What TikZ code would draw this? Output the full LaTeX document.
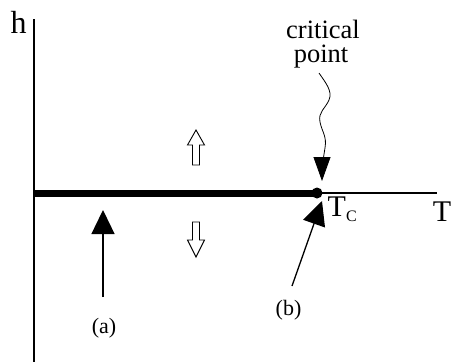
\documentclass[tikz,border=0pt]{standalone}
\usepackage{fontspec}
\setmainfont{Liberation Serif}
\usetikzlibrary{arrows.meta}
\begin{document}
\begin{tikzpicture}[x=1pt,y=-1pt,
  axis/.style={line width=1.3pt},
  bigtip/.style={-{Triangle[length=24pt,width=23pt]}, line width=1.3pt},
  hollow/.style={draw, line width=0.9pt, fill=white, line join=miter},
  lbl/.style={inner sep=0pt, anchor=base, font=\fontsize{22}{23}\selectfont},
  axlbl/.style={inner sep=0pt, anchor=base, font=\fontsize{30}{30}\selectfont},
  critlbl/.style={inner sep=0pt, anchor=base, font=\fontsize{26.5}{24}\selectfont}]
\useasboundingbox (0,0) rectangle (456,362);
% axes
\coordinate (Ytop) at (34,19);
\coordinate (Ybot) at (34,362);
\coordinate (O) at (34,193);
\coordinate (Xend) at (437,193);
\draw[axis] (Ytop) -- (Ybot);
\draw[axis] (O) -- (Xend);
\node[axlbl, font=\fontsize{32}{32}\selectfont] (h) at (18.5,33) {h};
\node[axlbl] (T) at (442,221) {T};
\node[axlbl, anchor=base west] (Tc) at (327.5,216) {T\raisebox{-5pt}{\fontsize{16}{16}\selectfont C}};
% coexistence line
\node[circle, fill=black, inner sep=0pt, minimum size=11pt] (cp) at (317,193) {};
\draw[line width=7pt] (O) -- (cp.center);
% critical point label
\node[critlbl] (crit1) at (323,38.5) {critical};
\node[critlbl] (crit2) at (321,62) {point};
\coordinate (w0) at (319,73);
\coordinate (wtip) at (322,181);
\draw[line width=0.8pt, -{Triangle[length=24pt,width=17pt]}]
  (w0) .. controls (325,82) and (333,91) .. (329,100)
       .. controls (325,109) and (318,112) .. (320,122)
       .. controls (322,132) and (327,136) .. (325,148)
       .. controls (323,160) and (322,170) .. (wtip);
% hollow arrows
\draw[hollow] (196,130) -- (204.5,145) -- (199.5,145) -- (199.5,165) -- (192.5,165) -- (192.5,145) -- (187.5,145) -- cycle;
\draw[hollow] (196,257) -- (204.5,240) -- (199.5,240) -- (199.5,222) -- (192.5,222) -- (192.5,240) -- (187.5,240) -- cycle;
% (a)
\node[lbl] (a) at (104,333) {(a)};
\coordinate (aTail) at (103,297);
\coordinate (aTip) at (103,210);
\draw[bigtip] (aTail) -- (aTip);
% (b)
\node[lbl] (b) at (288.5,315) {(b)};
\coordinate (bTail) at (292,286);
\coordinate (bTip) at (322,201);
\draw[bigtip] (bTail) -- (bTip);
\end{tikzpicture}
\end{document}
